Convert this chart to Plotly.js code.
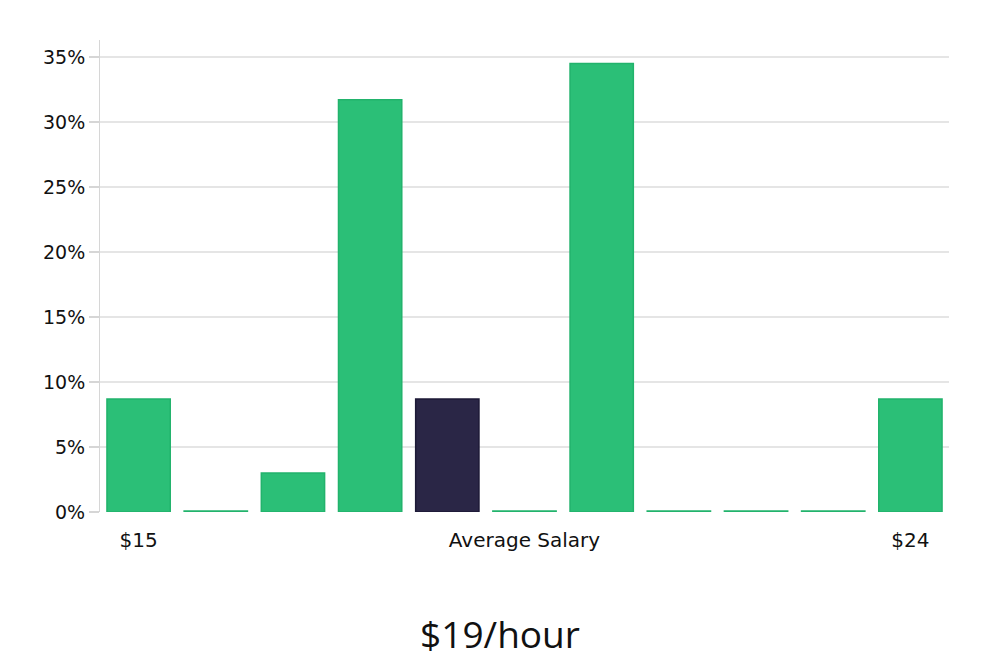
<!DOCTYPE html>
<html><head><meta charset="utf-8">
<script src="https://cdn.plot.ly/plotly-3.0.1.min.js"></script>
<style>body{margin:0;background:#fff}#chart{width:1000px;height:660px}</style>
</head><body><div id="chart"></div>
<script>
var categories = ["$15","b2","b3","b4","b5","Average Salary","b7","b8","b9","b10","$24"];
var tickLabels = ["$15","","","","","Average Salary","","","","","$24"];
var values = [8.7, 0, 3.0, 31.7, 8.7, 0, 34.5, 0, 0, 0, 8.7];
var highlightIndex = 4;
var minVisible = 0.08; // zero-value bars are drawn as a thin sliver, as in the reference
var shown = values.map(function(v){return Math.max(v, minVisible);});
var colors = values.map(function(v,i){return i===highlightIndex ? "#2a2646" : "#2bbf77";});
var lineColors = values.map(function(v,i){return i===highlightIndex ? "#1c1936" : "#22b36c";});
var yTicks = [0,5,10,15,20,25,30,35];

Plotly.newPlot("chart", [{
  type: "bar",
  x: categories,
  y: shown,
  customdata: values,
  marker: {color: colors, line: {color: lineColors, width: 1.5}},
  cliponaxis: false,
  hoverinfo: "none"
}], {
  width: 1000, height: 660,
  margin: {l: 100, r: 51, t: 40, b: 148},
  paper_bgcolor: "#fff", plot_bgcolor: "#fff",
  bargap: 0.18,
  showlegend: false,
  font: {family: "DejaVu Sans", size: 19, color: "#111"},
  title: {text: "$19/hour", font: {family: "Open Sans", size: 37, color: "#111"}, x: 0.5, xanchor: "center", yref: "container", y: 0.038, yanchor: "middle"},
  xaxis: {
    type: "category",
    tickvals: categories, ticktext: tickLabels,
    showgrid: false, zeroline: false,
    showline: false, ticks: "",
    ticklabelstandoff: 14,
    tickfont: {family: "DejaVu Sans", size: 20, color: "#111"}
  },
  yaxis: {
    range: [0, 36.3],
    tickvals: yTicks,
    ticktext: yTicks.map(function(t){return t + "%";}),
    showgrid: true, gridcolor: "#e5e5e5", gridwidth: 1.5,
    zeroline: false,
    showline: true, linecolor: "#d6d6d6", linewidth: 1,
    ticks: "outside", ticklen: 10, tickcolor: "#d6d6d6", tickwidth: 1.5,
    tickfont: {family: "DejaVu Sans", size: 19, color: "#111"}
  }
}, {displayModeBar: false, staticPlot: true});
</script></body></html>
